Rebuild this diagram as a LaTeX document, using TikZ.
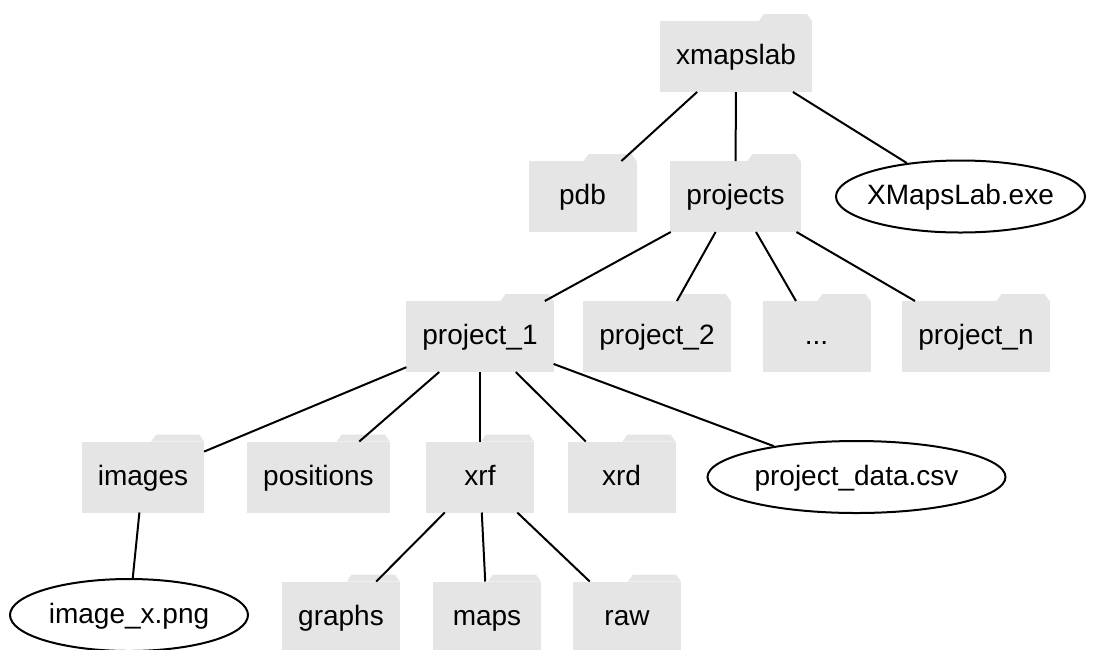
\documentclass[tikz,border=0pt]{standalone}
\usepackage{fontspec}
\setmainfont{Liberation Sans}
\usetikzlibrary{shapes.geometric}
\definecolor{foldergrey}{HTML}{E5E5E5}
\tikzset{
    folder/.style={rectangle, fill=foldergrey, minimum width=54pt, minimum height=35.5pt, inner xsep=8pt, outer sep=0pt, text height=10.5pt, text depth=2.5pt},
    file/.style={ellipse, draw, line width=1pt, minimum height=36pt, inner xsep=-4pt, inner ysep=0pt, text height=10.5pt, text depth=2.5pt},
    link/.style={line width=1pt}
}

\begin{document}
\begin{tikzpicture}[x=0.5pt, y=-0.5pt, font=\fontsize{14}{16}\selectfont]
    \useasboundingbox (0,0) rectangle (1102,649);
    % Top level
    \node[folder] (xmapslab) at (736,56.5) {xmapslab};
    \node[folder] (pdb) at (582.5,196.5) {pdb};
    \node[folder] (projects) at (735.5,196.5) {projects};
    \node[file, minimum width=124.5pt] (exe) at (960.5,196.5) {XMapsLab.exe};
    % Projects
    \node[folder] (project1) at (480,336.5) {project\_1};
    \node[folder] (project2) at (657,336.5) {project\_2};
    \node[folder] (dots) at (816.5,336.5) {...};
    \node[folder] (projectn) at (976,336.5) {project\_n};
    % Inside project_1
    \node[folder] (images) at (143,477) {images};
    \node[folder] (positions) at (318.5,477) {positions};
    \node[folder] (xrf) at (480,477) {xrf};
    \node[folder] (xrd) at (621.5,477) {xrd};
    \node[file, minimum width=149pt] (csv) at (856.5,477) {project\_data.csv};
    % Bottom row
    \node[file, minimum width=119pt] (png) at (129,615) {image\_x.png};
    \node[folder] (graphs) at (341,617) {graphs};
    \node[folder] (maps) at (487,617) {maps};
    \node[folder] (raw) at (627,617) {raw};
    % Folder tabs
    \foreach \f in {xmapslab,pdb,projects,project1,project2,dots,projectn,images,positions,xrf,xrd,graphs,maps,raw}
        \fill[foldergrey] (\f.north east) ++(-26.5pt,0) -- ++(2.5pt,3.5pt) -- ++(21.5pt,0) -- ++(2.5pt,-3.5pt) -- cycle;
    % Links
    \draw[link] (xmapslab) -- (pdb);
    \draw[link] (xmapslab) -- (projects);
    \draw[link] (xmapslab) -- (exe);
    \draw[link] (projects) -- (project1);
    \draw[link] (projects) -- (project2);
    \draw[link] (projects) -- (dots);
    \draw[link] (projects) -- (projectn);
    \draw[link] (project1) -- (images);
    \draw[link] (project1) -- (positions);
    \draw[link] (project1) -- (xrf);
    \draw[link] (project1) -- (xrd);
    \draw[link] (project1) -- (csv);
    \draw[link] (images) -- (png);
    \draw[link] (xrf) -- (graphs);
    \draw[link] (xrf) -- (maps);
    \draw[link] (xrf) -- (raw);
\end{tikzpicture}
\end{document}
